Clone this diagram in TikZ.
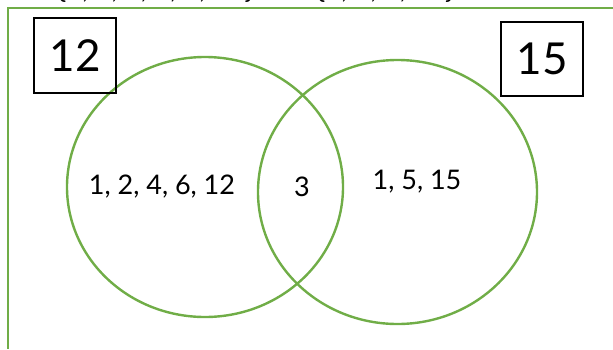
\documentclass[tikz,border=0pt]{standalone}
\usepackage{fontspec}
\setmainfont{Lato}
\usepackage{tikz}
\usetikzlibrary{shapes.geometric}

\definecolor{vgreen}{RGB}{112,173,71}

\begin{document}
\begin{tikzpicture}[x=1pt, y=-1pt, every node/.style={inner sep=0pt}]
              \useasboundingbox (0,0) rectangle (613,349);

              % frame and the clipped line above it
              \draw[vgreen, line width=2.4pt] (613,8) -- (8,8) -- (8,349);
              \node[anchor=base west, font=\fontsize{27.5}{32}\selectfont] (setA) at (58,-2) {\{1, 2, 3, 4, 6, 12\}};
              \node[anchor=base west, font=\fontsize{27.5}{32}\selectfont] (word) at (262,-2) {and};
              \node[anchor=base west, font=\fontsize{27.5}{32}\selectfont] (setB) at (317,-2) {\{1, 3, 5, 15\}};

              \node[ellipse, draw=vgreen, line width=2.4pt, minimum width=276pt, minimum height=260pt] (A) at (205,187) {};
              \node[ellipse, draw=vgreen, line width=2.4pt, minimum width=279pt, minimum height=264pt] (B) at (397.5,192) {};

              \node[draw, line width=1.6pt, minimum width=82pt, minimum height=75pt, font=\fontsize{44}{50}\selectfont] (labA) at (75,55.5) {12};
              \node[draw, line width=1.6pt, minimum width=82pt, minimum height=74pt, font=\fontsize{44}{50}\selectfont] (labB) at (542,59) {15};

              \node[font=\fontsize{27}{32}\selectfont] (onlyA) at (162,187) {1, 2, 4, 6, 12};
              \node[font=\fontsize{27}{32}\selectfont] (both) at (302,187) {3};
              \node[font=\fontsize{27}{32}\selectfont] (onlyB) at (417,182) {1, 5, 15};
            \end{tikzpicture}
\end{document}
